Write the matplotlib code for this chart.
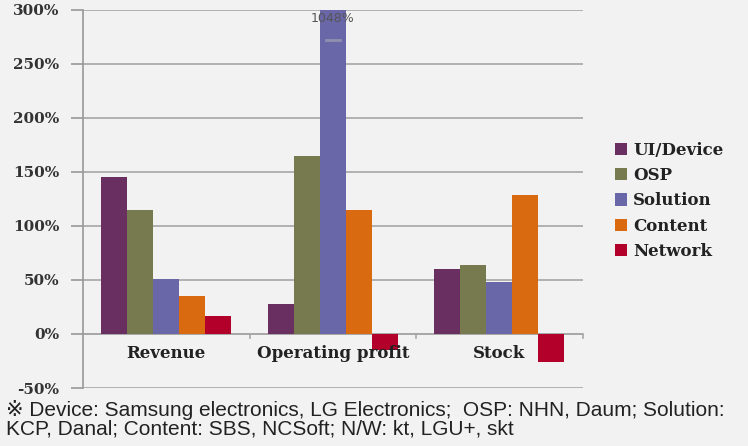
import matplotlib
matplotlib.use("Agg")
import matplotlib.pyplot as plt
import numpy as np

categories = ["Revenue", "Operating profit", "Stock"]
series = ["UI/Device", "OSP", "Solution", "Content", "Network"]
ui_device = [145, 28, 60]
osp = [115, 165, 64]
solution = [51, 300, 48]
content = [35, 115, 129]
network = [17, -15, -26]
values = [ui_device, osp, solution, content, network]
colors = ["#682F60", "#767A4E", "#6A67A8", "#D96A10", "#B3002B"]
yticks = [-50, 0, 50, 100, 150, 200, 250, 300]
note = "\u203b Device: Samsung electronics, LG Electronics;  OSP: NHN, Daum; Solution:\nKCP, Danal; Content: SBS, NCSoft; N/W: kt, LGU+, skt"

bg = "#F2F2F2"
fig = plt.figure(figsize=(7.48, 4.46), dpi=100, facecolor=bg)
ax = fig.add_axes([0.111, 0.130, 0.668, 0.848], facecolor=bg)

x = np.arange(len(categories))
w = 0.156
for i, (s, v, c) in enumerate(zip(series, values, colors)):
    ax.bar(x + (i - 2) * w, v, width=w, color=c, label=s, zorder=3,
           edgecolor="none")

# label for clipped bar
ax.text(x[1], 292, "1048%", ha="center", va="center", fontsize=9,
        color="#555555", family="DejaVu Sans", zorder=4)
ax.plot([x[1] - 0.04, x[1] + 0.04], [272, 272], color="#9A9AB0",
        linewidth=2, zorder=4, alpha=0.8)

ax.set_xlim(-0.5, 2.5)
ax.set_ylim(-50, 300)
ax.set_yticks(yticks)
ax.set_yticklabels([f"{t}%" for t in yticks], family="DejaVu Serif",
                   fontsize=11, fontweight="bold", color="#333333")
ax.yaxis.grid(True, color="#A6A6A6", linewidth=1.2, zorder=0)
ax.tick_params(axis="y", length=9, color="#999999", width=1.2, pad=8)

for side in ["top", "right", "bottom"]:
    ax.spines[side].set_visible(False)
ax.spines["left"].set_color("#999999")
ax.spines["left"].set_linewidth(1.2)

ax.axhline(0, color="#A6A6A6", linewidth=1.2, zorder=2)
ax.set_xticks([])
for xb in [0.5, 1.5, 2.5]:
    ax.plot([xb, xb], [0, -4], color="#A6A6A6", linewidth=1.2, zorder=2,
            clip_on=False)
for xi, cat in zip(x, categories):
    ax.text(xi, -18, cat, ha="center", va="center", family="DejaVu Serif",
            fontsize=12, fontweight="bold", color="#222222")

leg = fig.legend(loc="upper left", bbox_to_anchor=(0.802, 0.716), frameon=False,
                 handlelength=0.75, handleheight=0.75, handletextpad=0.35,
                 labelspacing=0.5,
                 prop={"family": "DejaVu Serif", "size": 12, "weight": "bold"})
for t in leg.get_texts():
    t.set_color("#222222")

fig.text(0.008, 0.06, note, ha="left", va="center", fontsize=15,
         family=["Liberation Sans", "DejaVu Sans"], color="#222222",
         linespacing=0.92)

fig.savefig("out.png", dpi=100, facecolor=bg)
